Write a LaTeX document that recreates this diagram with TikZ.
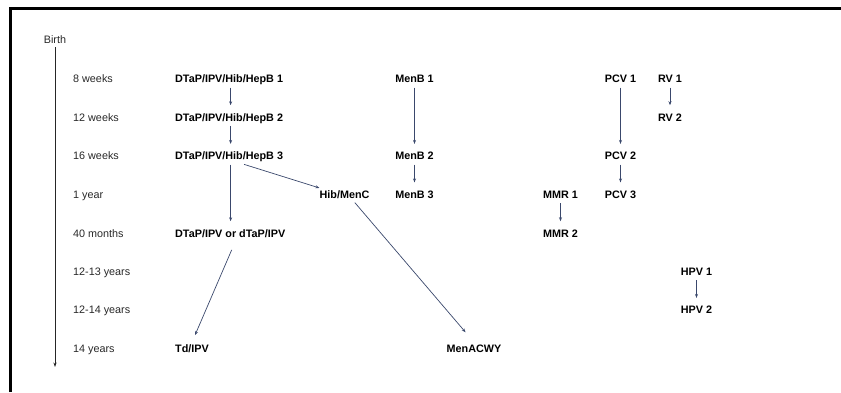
\documentclass[tikz,border=0pt]{standalone}
\usepackage{fontspec}
\setmainfont{Liberation Sans}
\usetikzlibrary{arrows.meta}
\definecolor{arrowblue}{RGB}{58,72,108}
\definecolor{labelgray}{RGB}{40,40,40}
\tikzset{
  age/.style={anchor=west,inner xsep=0pt,inner ysep=2.5pt,text height=7.7pt,text depth=0pt,
    font=\fontsize{10.8pt}{12pt}\selectfont,text=labelgray},
  vac/.style={inner xsep=0pt,inner ysep=2.5pt,text height=7.7pt,text depth=0pt,
    font=\fontsize{10.8pt}{12pt}\selectfont\bfseries,text=black},
  vacl/.style={vac,anchor=west},
  link/.style={draw=arrowblue,line width=0.7pt,-{Stealth[length=4pt,width=3pt]},
    shorten <=2pt,shorten >=5.5pt},
  timeline/.style={draw=black!85,line width=0.8pt,-{Stealth[length=4.5pt,width=3.2pt]}}
}
\begin{document}
\begin{tikzpicture}[x=1pt,y=-1pt]
\useasboundingbox (0,0) rectangle (841,392);
% frame
\draw[line width=2.5pt] (10.7,392) -- (10.7,8.7) -- (841,8.7);

% timeline
\node[age,anchor=center] (birth) at (55,39.5) {Birth};
\coordinate (tend) at (55,367);
\draw[timeline] ([yshift=-1pt]birth.south) -- (tend);

% ages
\node[age] (a8w)  at (73,79)    {8 weeks};
\node[age] (a12w) at (73,117.3) {12 weeks};
\node[age] (a16w) at (73,156)   {16 weeks};
\node[age] (a1y)  at (73,194.5) {1 year};
\node[age] (a40m) at (73,233.3) {40 months};
\node[age] (a1213) at (73,271.7) {12-13 years};
\node[age] (a1214) at (73,310)  {12-14 years};
\node[age] (a14y) at (73,348.7) {14 years};

% DTaP series
\node[vacl] (d1) at (175,79)    {DTaP/IPV/Hib/HepB 1};
\node[vacl] (d2) at (175,117.3) {DTaP/IPV/Hib/HepB 2};
\node[vacl] (d3) at (175,156)   {DTaP/IPV/Hib/HepB 3};
\node[vacl] (d40) at (175,233.3) {DTaP/IPV or dTaP/IPV};
\node[vacl] (td) at (175,348.7) {Td/IPV};

% meningococcal
\node[vac] (hib) at (344.5,194.5) {Hib/MenC};
\node[vac] (mb1) at (414.5,79)    {MenB 1};
\node[vac] (mb2) at (414.5,156)   {MenB 2};
\node[vac] (mb3) at (414.5,194.5) {MenB 3};
\node[vac] (mac) at (474,348.7)   {MenACWY};

% MMR, PCV, RV, HPV
\node[vac] (mmr1) at (560.5,194.5) {MMR 1};
\node[vac] (mmr2) at (560.5,233.3) {MMR 2};
\node[vac] (pcv1) at (620.5,79)    {PCV 1};
\node[vac] (pcv2) at (620.5,156)   {PCV 2};
\node[vac] (pcv3) at (620.5,194.5) {PCV 3};
\node[vac] (rv1)  at (670,79)      {RV 1};
\node[vac] (rv2)  at (670,117.3)   {RV 2};
\node[vac] (hpv1) at (696.5,271.7) {HPV 1};
\node[vac] (hpv2) at (696.5,310)   {HPV 2};

% connectors
\draw[link] ([xshift=1.5pt]d1.south) -- ([xshift=1.5pt]d2.north);
\draw[link] ([xshift=1.5pt]d2.south) -- ([xshift=1.5pt]d3.north);
\draw[link] ([xshift=1.5pt]d3.south) -- ([xshift=1.5pt]d3.south |- d40.north);
\draw[link,shorten <=1pt,shorten >=0pt] ([xshift=14pt,yshift=-1.5pt]d3.south) -- (hib.north west);
\draw[link,shorten <=0pt,shorten >=0pt] ([xshift=1.5pt,yshift=-10pt]d40.south) -- ([xshift=3pt,yshift=7pt]td.north);
\draw[link,shorten >=13pt] ([xshift=9pt]hib.south) -- (mac.north);
\draw[link] (mb1) -- (mb2);
\draw[link] (mb2) -- (mb3);
\draw[link] (mmr1) -- (mmr2);
\draw[link] (pcv1) -- (pcv2);
\draw[link] (pcv2) -- (pcv3);
\draw[link] (rv1) -- (rv2);
\draw[link] (hpv1) -- (hpv2);
\end{tikzpicture}
\end{document}
